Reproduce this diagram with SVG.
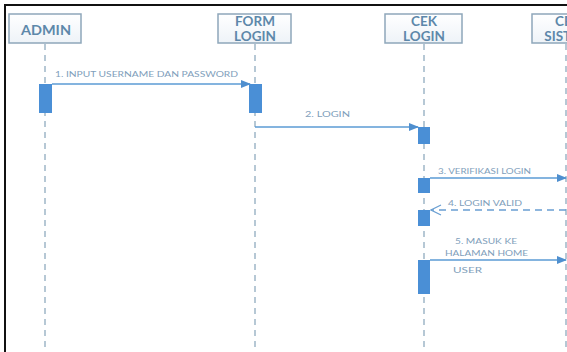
<svg xmlns="http://www.w3.org/2000/svg" width="567" height="352" viewBox="0 0 567 352">
  <defs>
    <linearGradient id="boxfill" x1="0" y1="0" x2="0" y2="1">
      <stop offset="0" stop-color="#ffffff"/>
      <stop offset="1" stop-color="#eef3f8"/>
    </linearGradient>
    <marker id="solid" markerWidth="10" markerHeight="8" refX="9" refY="4" orient="auto" markerUnits="userSpaceOnUse">
      <path d="M0,0 L10,4 L0,8 Z" fill="#4f8fcf"/>
    </marker>
    <marker id="open" markerWidth="12" markerHeight="12" refX="11" refY="6" orient="auto" markerUnits="userSpaceOnUse">
      <path d="M1,1 L11,6 L1,11" fill="none" stroke="#6a9fd2" stroke-width="1.2"/>
    </marker>
    <style>
      .frame { fill: #ffffff; stroke: #111111; stroke-width: 2; }
      .head rect { fill: url(#boxfill); stroke: #8ea7ba; stroke-width: 1.5; }
      .head text { font-family: Lato, "Liberation Sans", sans-serif; font-weight: bold; font-size: 13.5px; fill: #5d88aa; text-anchor: middle; }
      .life { stroke: #9fb6c7; stroke-width: 1.5; stroke-dasharray: 6 5; fill: none; }
      .act { fill: #4a8fd6; }
      .msg { stroke: #5b9bd5; stroke-width: 1.3; fill: none; }
      .ret { stroke: #6a9fd2; stroke-width: 1.3; stroke-dasharray: 7 5; fill: none; }
      .lbl { font-family: Lato, "Liberation Sans", sans-serif; font-size: 8px; fill: #7fa0bb; }
    </style>
  </defs>

  <rect class="frame" x="5" y="5" width="600" height="400"/>

  <g id="lifelines">
    <line class="life" x1="45" y1="44" x2="45" y2="352"/>
    <line class="life" x1="255" y1="44" x2="255" y2="352"/>
    <line class="life" x1="424" y1="44" x2="424" y2="352"/>
    <line class="life" x1="566" y1="44" x2="566" y2="352"/>
  </g>

  <g id="admin" class="head">
    <rect x="9" y="14" width="72" height="29"/>
    <text x="46" y="35" textLength="50" lengthAdjust="spacingAndGlyphs">ADMIN</text>
  </g>
  <g id="form-login" class="head">
    <rect x="218" y="14" width="73" height="29"/>
    <text x="255" y="25.5">FORM</text>
    <text x="255" y="41">LOGIN</text>
  </g>
  <g id="cek-login" class="head">
    <rect x="385" y="14" width="77" height="29"/>
    <text x="424" y="25.5">CEK</text>
    <text x="424" y="41">LOGIN</text>
  </g>
  <g id="cek-sistem" class="head">
    <rect x="532" y="14" width="72" height="29"/>
    <text x="568" y="25.5">CEK</text>
    <text x="568" y="41">SISTEM</text>
  </g>

  <g id="activations">
    <rect class="act" x="39" y="84" width="13" height="29"/>
    <rect class="act" x="249" y="84" width="13" height="29"/>
    <rect class="act" x="418" y="127" width="12" height="17"/>
    <rect class="act" x="418" y="178" width="12" height="15"/>
    <rect class="act" x="418" y="210" width="12" height="16"/>
    <rect class="act" x="418" y="260" width="12" height="34"/>
  </g>

  <g id="connectors">
    <line class="msg" x1="52" y1="84" x2="250" y2="84" marker-end="url(#solid)"/>
    <line class="msg" x1="255" y1="127" x2="418" y2="127" marker-end="url(#solid)"/>
    <line class="msg" x1="430" y1="178" x2="566" y2="178" marker-end="url(#solid)"/>
    <line class="ret" x1="566" y1="210" x2="431" y2="210" marker-end="url(#open)"/>
    <line class="msg" x1="430" y1="260" x2="566" y2="260" marker-end="url(#solid)"/>
  </g>

  <g id="labels">
    <text class="lbl" x="55" y="77" textLength="183" lengthAdjust="spacingAndGlyphs">1. INPUT USERNAME DAN PASSWORD</text>
    <text class="lbl" x="305" y="117" textLength="45" lengthAdjust="spacingAndGlyphs">2. LOGIN</text>
    <text class="lbl" x="438" y="174" textLength="93" lengthAdjust="spacingAndGlyphs">3. VERIFIKASI LOGIN</text>
    <text class="lbl" x="448" y="206" textLength="74" lengthAdjust="spacingAndGlyphs">4. LOGIN VALID</text>
    <text class="lbl" x="455" y="244" textLength="62" lengthAdjust="spacingAndGlyphs">5. MASUK KE</text>
    <text class="lbl" x="445" y="256" textLength="83" lengthAdjust="spacingAndGlyphs">HALAMAN HOME</text>
    <text class="lbl" x="453" y="273" textLength="29" lengthAdjust="spacingAndGlyphs">USER</text>
  </g>
</svg>
